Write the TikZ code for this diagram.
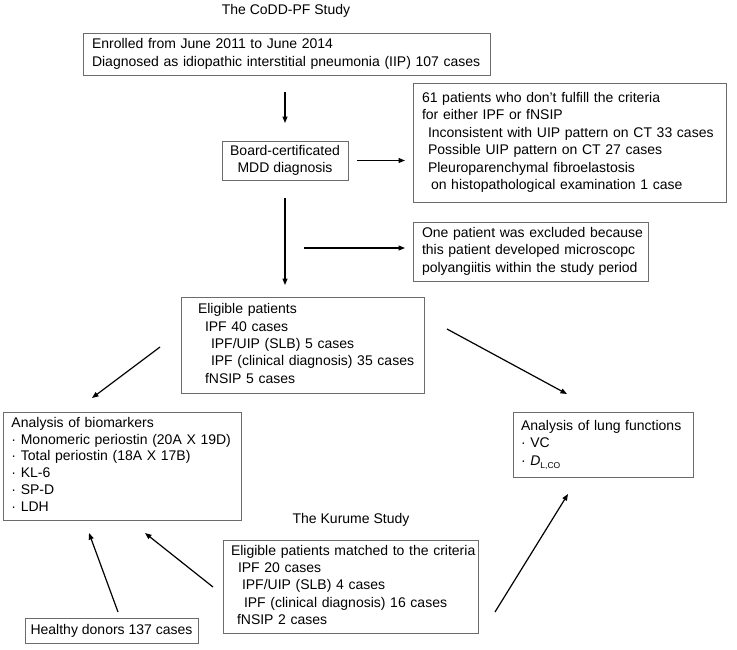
\documentclass[tikz,border=0pt]{standalone}
\usepackage{fontspec}
\setmainfont{Liberation Sans}
\usetikzlibrary{arrows.meta}
\definecolor{boxgray}{gray}{0.42}
\newcommand\boxlines[1]{\begin{tabular}{@{}l@{}}#1\end{tabular}}
\newcommand\ind[1]{\hspace*{#1pt}}
\begin{document}
\begin{tikzpicture}[x=1pt,y=-1pt,
  every node/.style={inner sep=0pt, outer sep=0pt, font=\fontsize{14}{17.4}\selectfont},
  box/.style={draw=boxgray, line width=0.9pt, anchor=north west, align=left},
  arr/.style={draw=black, line width=1.2pt, -{Triangle[length=6.5pt,width=5pt]}}]
\useasboundingbox[fill=white] (0,0) rectangle (737,649);

\node (t1) at (286,11) {The CoDD-PF Study};
\node (t2) at (351,520) {The Kurume Study};

\node[box, minimum width=407, minimum height=42, text width=389, inner xsep=9] (enr) at (83,33)
  {\boxlines{Enrolled from June 2011 to June 2014\\Diagnosed as idiopathic interstitial pneumonia (IIP) 107 cases}};

\node[box, minimum width=126, minimum height=39, align=center] (board) at (222,141)
  {Board-certificated\\MDD diagnosis};

\node[box, minimum width=313, minimum height=119, text width=295, inner xsep=9] (excl) at (413,83)
  {\boxlines{61 patients who don’t fulfill the criteria\\
  for either IPF or fNSIP\\
  \ind{6}Inconsistent with UIP pattern on CT 33 cases\\
  \ind{6}Possible UIP pattern on CT 27 cases\\
  \ind{6}Pleuroparenchymal fibroelastosis\\
  \ind{9}on histopathological examination 1 case}};

\node[box, minimum width=235, minimum height=59, text width=217, inner xsep=9] (one) at (413,222)
  {\boxlines{One patient was excluded because\\
  this patient developed microscopc\\
  polyangiitis within the study period}};

\node[box, minimum width=243, minimum height=96, text width=209, inner xsep=17] (elig) at (181,297)
  {\boxlines{Eligible patients\\
  \ind{7}IPF 40 cases\\
  \ind{13}IPF/UIP (SLB) 5 cases\\
  \ind{13}IPF (clinical diagnosis) 35 cases\\
  \ind{7}fNSIP 5 cases}};

\node[box, minimum width=238, minimum height=108, text width=221, inner xsep=8.5,
  font=\fontsize{14}{16.8}\selectfont] (bio) at (3,412)
  {\boxlines{Analysis of biomarkers\\
  \textperiodcentered\ Monomeric periostin (20A X 19D)\\
  \textperiodcentered\ Total periostin (18A X 17B)\\
  \textperiodcentered\ KL-6\\
  \textperiodcentered\ SP-D\\
  \textperiodcentered\ LDH}};

\node[box, minimum width=180, minimum height=65, text width=164, inner xsep=8] (lung) at (513,412)
  {\boxlines{Analysis of lung functions\\
  \textperiodcentered\ VC\\
  \textperiodcentered\ {\itshape D}\raisebox{-3pt}{\fontsize{8.5}{9}\selectfont L,CO}}};

\node[box, minimum width=173, minimum height=25, align=center] (healthy) at (25,618)
  {Healthy donors 137 cases};

\node[box, minimum width=255, minimum height=93, text width=239, inner xsep=8] (kur) at (223,540)
  {\boxlines{Eligible patients matched to the criteria\\
  \ind{7}IPF 20 cases\\
  \ind{11}IPF/UIP (SLB) 4 cases\\
  \ind{13}IPF (clinical diagnosis) 16 cases\\
  \ind{6}fNSIP 2 cases}};

% connectors
\draw[arr, shorten <=17pt, shorten >=18pt] (enr.south -| board.north) -- (board.north);
\draw[arr, shorten <=9pt, shorten >=8pt] (board.east) -- (board.east -| excl.west);
\draw[arr, shorten <=18pt, shorten >=12pt] (board.south) -- (board.south |- elig.north);
\coordinate (jn) at (304,248);
\draw[arr, shorten >=8pt] (jn) -- (jn -| one.west);

\coordinate (eb1) at (160,347); \coordinate (eb2) at (92,398);
\draw[arr] (eb1) -- (eb2);
\coordinate (el1) at (447,329); \coordinate (el2) at (567,394);
\draw[arr] (el1) -- (el2);
\coordinate (hb1) at (118,612); \coordinate (hb2) at (89,533);
\draw[arr] (hb1) -- (hb2);
\coordinate (kb1) at (213,587); \coordinate (kb2) at (145,533);
\draw[arr] (kb1) -- (kb2);
\coordinate (kl1) at (495,612); \coordinate (kl2) at (568,494);
\draw[arr] (kl1) -- (kl2);
\end{tikzpicture}
\end{document}
